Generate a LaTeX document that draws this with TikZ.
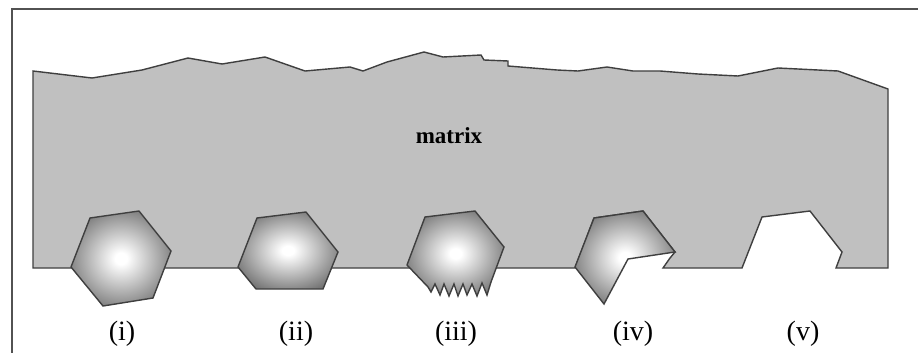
\documentclass[tikz,border=0pt]{standalone}
\usepackage{fontspec}
\setmainfont{Liberation Serif}
\usepackage{tikz}
\usepackage{xcolor}

\definecolor{matrixgray}{HTML}{C0C0C0}
\definecolor{edgegray}{HTML}{3F3F3F}
\definecolor{grainedge}{HTML}{626262}
% light core, darker rim
\pgfdeclareradialshading{grain}{\pgfpoint{0bp}{0bp}}{%
  color(0bp)=(white); color(3bp)=(white); color(32bp)=(grainedge); color(50bp)=(grainedge)}

\begin{document}
\begin{tikzpicture}[x=1pt,y=-1pt,line join=miter]
  \tikzstyle{outline}=[draw=edgegray,line width=1.4pt]
  \tikzstyle{particle}=[outline,shading=grain]
  \tikzstyle{label}=[anchor=base,font=\fontsize{28}{32}\selectfont]
  \useasboundingbox (0,0) rectangle (918,353);

  % frame
  \draw[draw=edgegray!90,line width=1.6pt] (12,353)--(12,9)--(918,9);

  % matrix with the pull-out at (iv) and the empty pit at (v)
  \filldraw[outline,fill=matrixgray] (33,268)--(33,71)--(92,78)--(142,70)--(188,58)--(222,64)
    --(265,57)--(305,71)--(350,67)--(363,71)--(387,62)--(424,52)--(443,57)--(481,55)
    --(484,60)--(508,61)--(508,66)--(557,70)--(578,71)--(607,67)--(633,71)--(660,71)
    --(698,74)--(738,76)--(778,68)--(838,71)--(888,89)--(888,268)--(836,268)--(842,252)
    --(810,211)--(762,217)--(742,268)--(663,268)--(670,258)--(675,252)--(643,211)
    --(594,218)--(575,268)--cycle;
  \node(mtx) at (449,136) [font=\fontsize{23}{27}\selectfont\bfseries]{matrix};

  % (i) intact grain
  \shadedraw[particle] (90,218)--(139,211)--(171,251)--(153,298)--(103,306)--(71,267)--cycle;
  % (ii) flat cut
  \shadedraw[particle] (257,218)--(306,212)--(338,252)--(323,289)--(256,289)--(238,267)--cycle;
  % (iii) chipped bottom
  \shadedraw[particle] (425,217)--(475,211)--(504,247)--(491,282)--(487,295)--(482,283)
    --(477,296)--(472,284)--(467,295)--(463,284)--(458,296)--(454,284)--(449,296)
    --(444,284)--(440,295)--(435,284)--(431,292)--(428,287)--(407,265)--cycle;
  % (iv) fractured, partly pulled out
  \shadedraw[particle] (594,218)--(643,211)--(675,252)--(628,259)--(604,304)--(575,267)--cycle;

  \node(lab1) at (122,340) [label]{(i)};
  \node(lab2) at (296,340) [label]{(ii)};
  \node(lab3) at (456,340) [label]{(iii)};
  \node(lab4) at (633,340) [label]{(iv)};
  \node(lab5) at (803,340) [label]{(v)};
\end{tikzpicture}
\end{document}
